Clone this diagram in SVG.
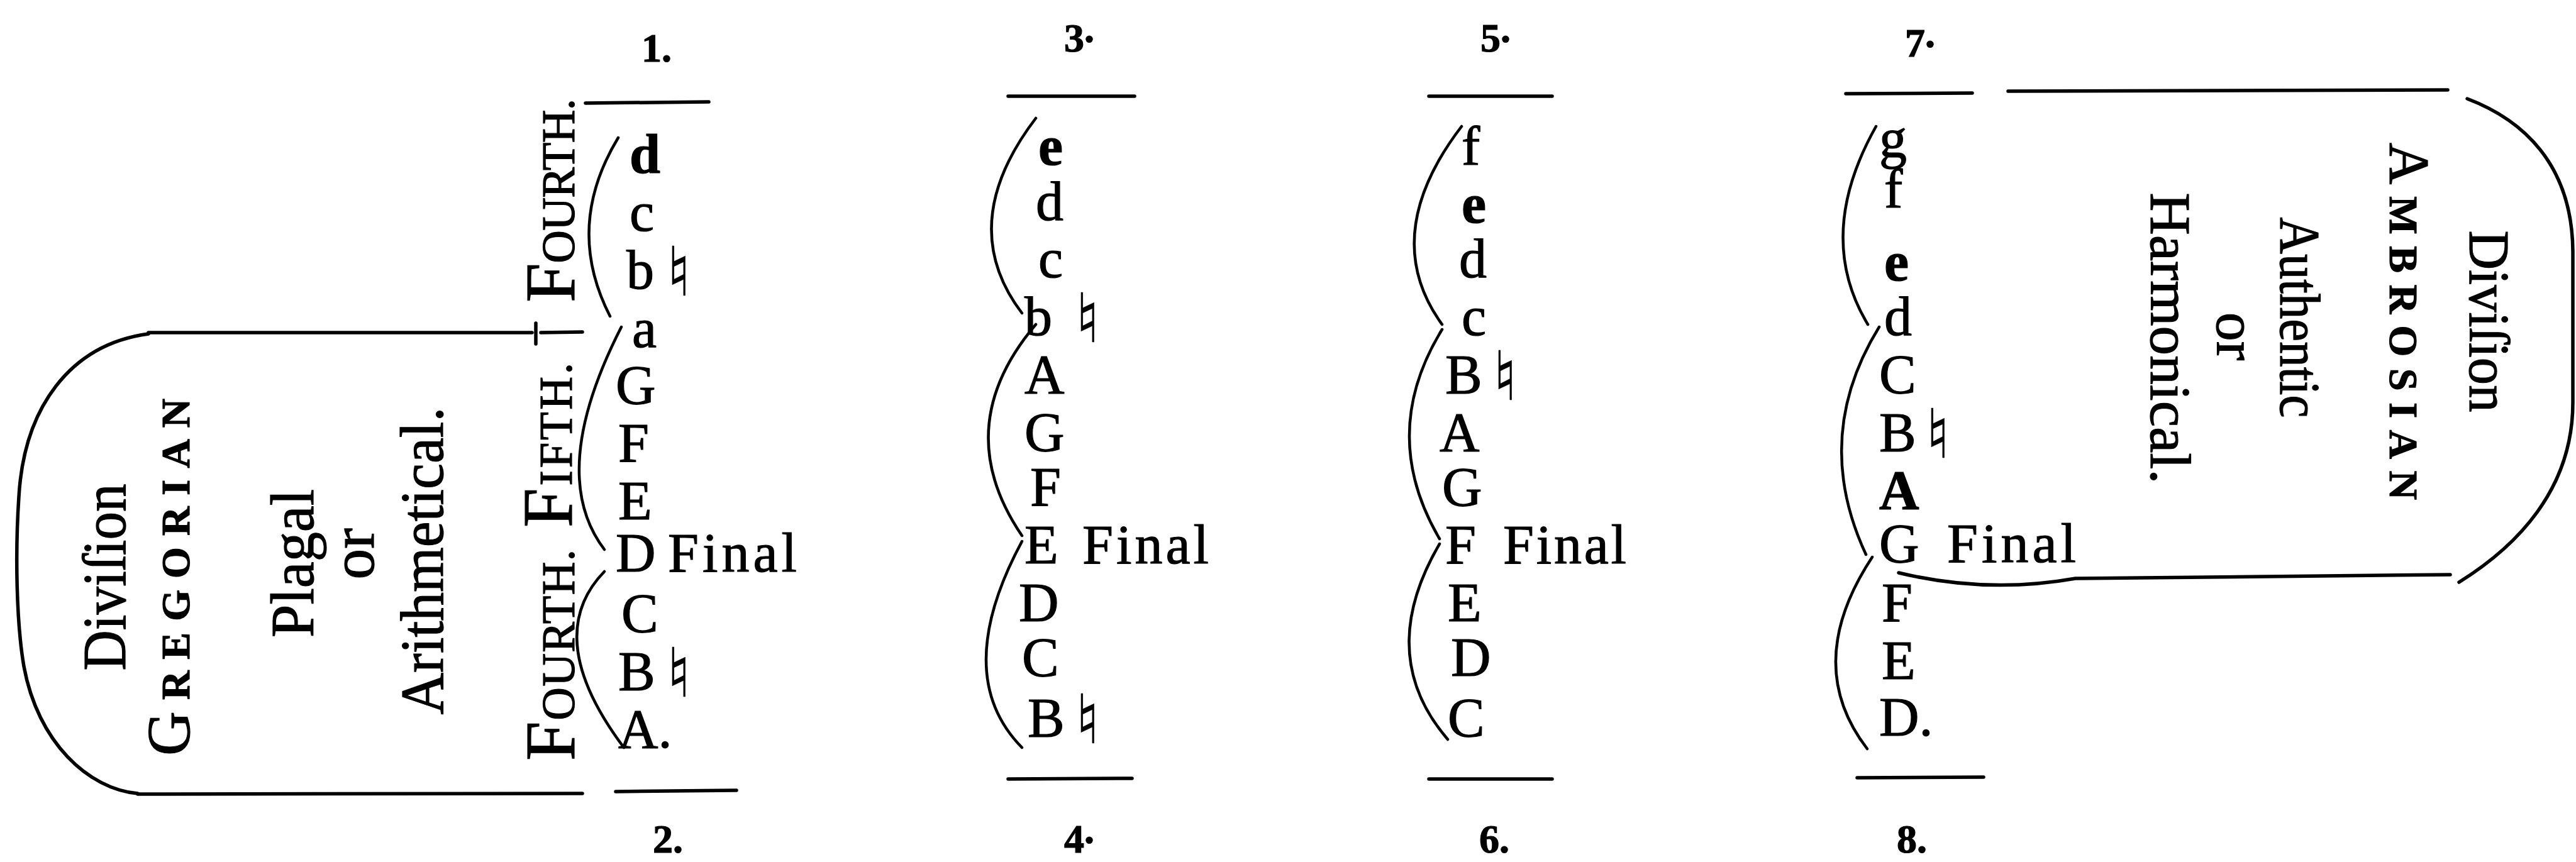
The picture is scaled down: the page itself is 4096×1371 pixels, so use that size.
<svg xmlns="http://www.w3.org/2000/svg" width="4096" height="1371" viewBox="0 0 4096 1371">
<style>
.ln{stroke:#000;stroke-width:5.5;fill:none;stroke-linecap:round}
.br{stroke:#000;stroke-width:4.5;fill:none;stroke-linecap:round}
text{stroke:#000;stroke-width:1.2}
.nt{font-family:"Liberation Serif",serif;font-size:88px;fill:#000}
.b{font-weight:bold}
.nat{font-family:"DejaVu Sans",sans-serif;font-size:108px;fill:#000;stroke-width:0.6}
.fin{font-family:"Liberation Serif",serif;font-size:88px;fill:#000}
.num{font-family:"Liberation Serif",serif;font-size:64px;font-weight:bold;text-anchor:middle;fill:#000}
.lab{font-family:"Liberation Serif",serif;font-size:113px;text-anchor:middle;fill:#000}
.sc{font-size:73px}
.big{font-family:"Liberation Serif",serif;font-size:98px;text-anchor:middle;fill:#000}
.big2{font-family:"Liberation Serif",serif;font-size:92px;text-anchor:middle;fill:#000}
.sc2{font-size:64px;font-weight:bold}
</style>
<rect width="4096" height="1371" fill="#fff"/>

<g id="connectors">
  <path class="ln" d="M931,164 L1127,162"/>
  <path class="ln" d="M979,1259 L1171,1257"/>
  <path class="ln" d="M1603,153 L1804,153"/>
  <path class="ln" d="M1603,1239 L1800,1238"/>
  <path class="ln" d="M2272,153 L2468,153"/>
  <path class="ln" d="M2272,1239 L2468,1239"/>
  <path class="ln" d="M2935,149 L3136,148"/>
  <path class="ln" d="M2953,1237 L3154,1236"/>
  <path class="br" d="M983,219 Q897,361 970,503"/>
  <path class="br" d="M988,520 Q869,753 961,874"/>
  <path class="br" d="M961,909 Q860,1013 992,1189"/>
  <path class="br" d="M1647,188 Q1518,357 1625,498"/>
  <path class="br" d="M1647,516 Q1508,680 1625,852"/>
  <path class="br" d="M1625,861 Q1511,1073 1625,1189"/>
  <path class="br" d="M2324,201 Q2191,375 2293,516"/>
  <path class="br" d="M2293,524 Q2191,690 2289,857"/>
  <path class="br" d="M2289,865 Q2186,1041 2302,1176"/>
  <path class="br" d="M2983,201 Q2885,375 2970,516"/>
  <path class="br" d="M2988,520 Q2880,695 2967,882"/>
  <path class="br" d="M2977,886 Q2865,1056 2969,1191"/>
</g>

<g id="gregorian">
  <path class="ln" d="M236,531 C110,548 38,650 30,790 C24,880 26,990 38,1060 C60,1180 140,1255 219,1262"/>
  <path class="ln" d="M236,529 L846,529"/>
  <path class="ln" d="M852,514 L852,547"/>
  <path class="ln" d="M860,529 L926,528"/>
  <path class="ln" d="M219,1263 L926,1262"/>
  <text class="big" transform="translate(199,918) rotate(-90)" textLength="297" lengthAdjust="spacingAndGlyphs">Diviſion</text>
  <text class="big" transform="translate(301,918) rotate(-90)" textLength="568" lengthAdjust="spacing">G<tspan class="sc2">REGORIAN</tspan></text>
  <text class="big" transform="translate(498,896) rotate(-90)" textLength="236" lengthAdjust="spacingAndGlyphs">Plagal</text>
  <text class="big" transform="translate(594,881) rotate(-90)">or</text>
  <text class="big" transform="translate(704,892) rotate(-90)" textLength="489" lengthAdjust="spacingAndGlyphs">Arithmetical.</text>
</g>

<g id="interval-labels">
  <text class="lab" transform="translate(913,319) rotate(-90)" textLength="324" lengthAdjust="spacing">F<tspan class="sc">OURTH.</tspan></text>
  <text class="lab" transform="translate(909,708) rotate(-90)" textLength="262" lengthAdjust="spacing">F<tspan class="sc">IFTH.</tspan></text>
  <text class="lab" transform="translate(913,1042) rotate(-90)" textLength="336" lengthAdjust="spacing">F<tspan class="sc">OURTH.</tspan></text>
</g>

<g id="col1">
  <text class="num" x="1044" y="98">1.</text>
  <text class="num" x="1062" y="1356">2.</text>
  <text class="nt b" x="1001" y="275">d</text>
  <text class="nt" x="1001" y="367">c</text>
  <text class="nt" x="996" y="459">b</text><text class="nat" x="1060" y="470">♮</text>
  <text class="nt" x="1005" y="552">a</text>
  <text class="nt" x="979" y="642">G</text>
  <text class="nt" x="983" y="734">F</text>
  <text class="nt" x="983" y="826">E</text>
  <text class="nt" x="979" y="909">D</text><text class="fin" x="1062" y="909" textLength="205" lengthAdjust="spacing">Final</text>
  <text class="nt" x="988" y="1005">C</text>
  <text class="nt" x="983" y="1097">B</text><text class="nat" x="1060" y="1108">♮</text>
  <text class="nt" x="983" y="1189">A.</text>
</g>

<g id="col3">
  <text class="num" x="1716" y="82">3<tspan dy="-15">.</tspan></text>
  <text class="num" x="1716" y="1356">4<tspan dy="-15">.</tspan></text>
  <text class="nt b" x="1651" y="262">e</text>
  <text class="nt" x="1647" y="350">d</text>
  <text class="nt" x="1651" y="441">c</text>
  <text class="nt" x="1629" y="533">b</text><text class="nat" x="1710" y="544">♮</text>
  <text class="nt" x="1629" y="625">A</text>
  <text class="nt" x="1629" y="717">G</text>
  <text class="nt" x="1638" y="804">F</text>
  <text class="nt" x="1629" y="896">E</text><text class="fin" x="1721" y="896" textLength="201" lengthAdjust="spacing">Final</text>
  <text class="nt" x="1620" y="988">D</text>
  <text class="nt" x="1625" y="1075">C</text>
  <text class="nt" x="1634" y="1171">B</text><text class="nat" x="1710" y="1182">♮</text>
</g>

<g id="col5">
  <text class="num" x="2378" y="82">5<tspan dy="-15">.</tspan></text>
  <text class="num" x="2376" y="1356">6.</text>
  <text class="nt" x="2324" y="262">f</text>
  <text class="nt b" x="2324" y="354">e</text>
  <text class="nt" x="2320" y="441">d</text>
  <text class="nt" x="2324" y="533">c</text>
  <text class="nt" x="2298" y="625">B</text><text class="nat" x="2374" y="636">♮</text>
  <text class="nt" x="2289" y="717">A</text>
  <text class="nt" x="2293" y="804">G</text>
  <text class="nt" x="2298" y="896">F</text><text class="fin" x="2390" y="896" textLength="196" lengthAdjust="spacing">Final</text>
  <text class="nt" x="2302" y="988">E</text>
  <text class="nt" x="2307" y="1075">D</text>
  <text class="nt" x="2302" y="1171">C</text>
</g>

<g id="col7">
  <text class="num" x="3053" y="90">7<tspan dy="-15">.</tspan></text>
  <text class="num" x="3040" y="1356">8.</text>
  <text class="nt" x="2988" y="250">g</text>
  <text class="nt" x="2996" y="330">f</text>
  <text class="nt b" x="2996" y="446">e</text>
  <text class="nt" x="2996" y="533">d</text>
  <text class="nt" x="2988" y="625">C</text>
  <text class="nt" x="2988" y="717">B</text><text class="nat" x="3062" y="728">♮</text>
  <text class="nt b" x="2988" y="809">A</text>
  <text class="nt" x="2988" y="894">G</text><text class="fin" x="3096" y="894" textLength="205" lengthAdjust="spacing">Final</text>
  <text class="nt" x="2992" y="988">F</text>
  <text class="nt" x="2992" y="1080">E</text>
  <text class="nt" x="2988" y="1170">D.</text>
</g>

<g id="ambrosian">
  <path class="ln" d="M3193,145 L3892,143"/>
  <path class="ln" d="M3019,911 Q3160,945 3300,920 L3896,914"/>
  <path class="ln" d="M3923,157 C4010,190 4090,260 4091,400 L4091,640 C4091,780 4000,870 3910,926"/>
  <text class="big2" transform="translate(3927,511) rotate(90)" textLength="289" lengthAdjust="spacingAndGlyphs">Diviſion</text>
  <text class="big2" transform="translate(3800,511) rotate(90)" textLength="568" lengthAdjust="spacing">A<tspan class="sc2">MBROSIAN</tspan></text>
  <text class="big2" transform="translate(3626,505) rotate(90)" textLength="319" lengthAdjust="spacingAndGlyphs">Authentic</text>
  <text class="big2" transform="translate(3525,535) rotate(90)">or</text>
  <text class="big2" transform="translate(3420,538) rotate(90)" textLength="463" lengthAdjust="spacingAndGlyphs">Harmonical.</text>
</g>
</svg>
